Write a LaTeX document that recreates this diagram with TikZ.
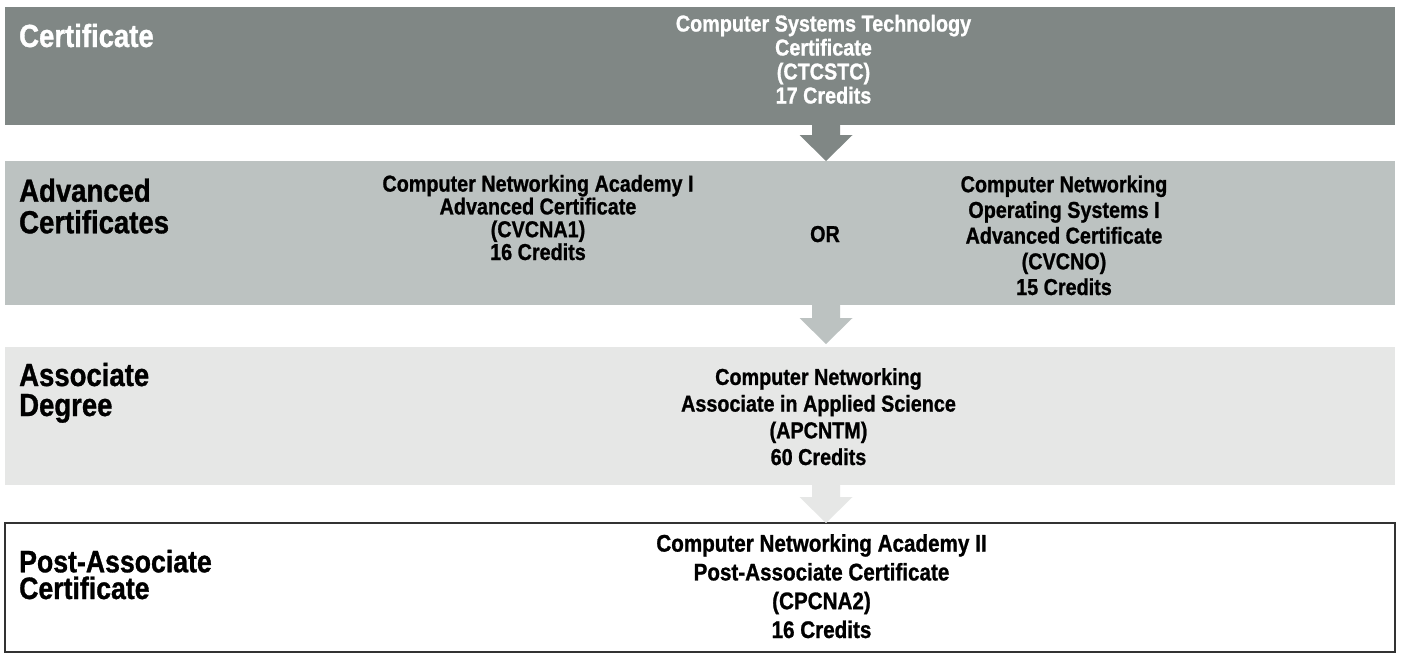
\documentclass[tikz,border=0pt]{standalone}
\usepackage{fontspec}
\usetikzlibrary{calc}
\newfontfamily\cond{Liberation Sans}[FakeStretch=0.86,FakeBold=1]
\definecolor{bandA}{RGB}{128,135,133}
\definecolor{bandB}{RGB}{188,194,193}
\definecolor{bandC}{RGB}{230,231,230}
\definecolor{frameD}{RGB}{50,50,50}
\begin{document}
\begin{tikzpicture}[x=1pt,y=-1pt,
  band/.style={rectangle, inner sep=0pt, outer sep=0pt, anchor=north west, minimum width=1390pt},
  title/.style={anchor=base west, inner sep=0pt, align=left, font=\cond\bfseries\fontsize{32}{31}\selectfont},
  body/.style={anchor=base, inner sep=0pt, align=center, font=\cond\bfseries\fontsize{23}{24}\selectfont},
  blockarrow/.style={to path={let \p1=(\tikztostart), \p2=(\tikztotarget) in
    (\x1-14pt,\y1) -- (\x1+14pt,\y1) -- (\x1+14pt,\y2+26pt) -- (\x1+26.5pt,\y2+26pt)
    -- (\x2,\y2) -- (\x1-26.5pt,\y2+26pt) -- (\x1-14pt,\y2+26pt) -- cycle}}
]
\useasboundingbox (0,0) rectangle (1401,653);
\fill[white] (0,0) rectangle (1401,653);

% bands
\node[band, fill=bandA, minimum height=118pt] (b1) at (5,7) {};
\node[band, fill=bandB, minimum height=144pt] (b2) at (5,161) {};
\node[band, fill=bandC, minimum height=138pt] (b3) at (5,347) {};
\node[band, fill=white, draw=frameD, line width=1.5pt, minimum height=129pt] (b4) at (5,523) {};

% arrows
\coordinate (ax) at (826,0);
\fill[bandA] (b1.south -| ax) to[blockarrow] (b2.north -| ax);
\fill[bandB] (b2.south -| ax) to[blockarrow] ([yshift=3pt]b3.north -| ax);
\fill[bandC] (b3.south -| ax) to[blockarrow] (b4.north -| ax);

% titles (anchor = baseline of last line)
\node[title, text=white] (t1) at (19,47) {Certificate};
\node[title, font=\cond\bfseries\fontsize{32}{31.6}\selectfont] (t2) at (19,233.3) {Advanced\\Certificates};
\node[title, font=\cond\bfseries\fontsize{32}{30}\selectfont] (t3) at (19,416) {Associate\\Degree};
\node[title, font=\cond\bfseries\fontsize{31}{26.7}\selectfont] (t4) at (19,599) {Post-Associate\\Certificate};

% programme texts (anchor = baseline of last line)
\node[body, text=white] (p1) at (823.5,103.5) {Computer Systems Technology\\Certificate\\(CTCSTC)\\17 Credits};
\node[body, font=\cond\bfseries\fontsize{23}{22.8}\selectfont] (p2a) at (538,260) {Computer Networking Academy I\\Advanced Certificate\\(CVCNA1)\\16 Credits};
\node[body] (or) at (825,242) {OR};
\node[body, font=\cond\bfseries\fontsize{23}{25.7}\selectfont] (p2b) at (1064,295) {Computer Networking\\Operating Systems I\\Advanced Certificate\\(CVCNO)\\15 Credits};
\node[body, font=\cond\bfseries\fontsize{23}{26.7}\selectfont] (p3) at (818.5,465) {Computer Networking\\Associate in Applied Science\\(APCNTM)\\60 Credits};
\node[body, font=\cond\bfseries\fontsize{24}{28.8}\selectfont] (p4) at (821.5,638) {Computer Networking Academy II\\Post-Associate Certificate\\(CPCNA2)\\16 Credits};
\end{tikzpicture}
\end{document}
